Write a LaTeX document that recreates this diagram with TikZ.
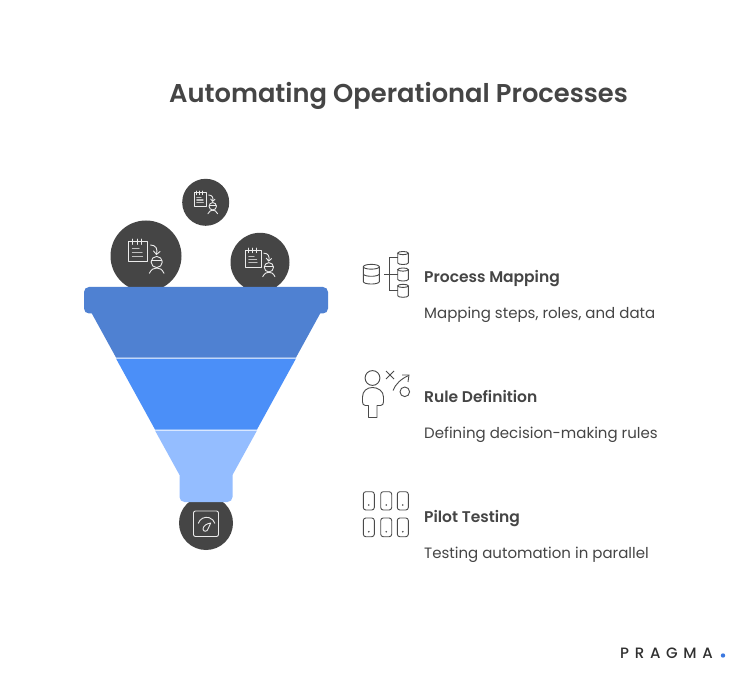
\documentclass[tikz,border=0pt]{standalone}
\usepackage{fontspec}
\setmainfont{Poppins}
\newfontfamily\semi{Poppins SemiBold}
\newfontfamily\logofont[LetterSpace=38]{Poppins Medium}
\definecolor{ink}{HTML}{454545}
\definecolor{blueA}{HTML}{4F81D2}
\definecolor{blueB}{HTML}{4B8FF8}
\definecolor{blueC}{HTML}{94BDFF}
\definecolor{iconline}{HTML}{4A4A4A}
\definecolor{dotblue}{HTML}{3B78E0}
\tikzset{
  ball/.style={circle,fill=ink,draw=none,inner sep=0pt,minimum size=#1},
  headtxt/.style={anchor=base west,inner sep=0pt,text=ink,font=\fontsize{15.5}{18}\selectfont\semi},
  desctxt/.style={anchor=base west,inner sep=0pt,text=ink,font=\fontsize{15}{18}\selectfont},
  icon/.style={draw=iconline,line width=0.9pt,fill=none},
  wicon/.style={draw=white!92!black,line width=0.9pt,fill=none,line cap=round,line join=round},
  docperson/.pic={
    \draw[wicon] (-17.7,-14.3) rectangle (1.3,5.7);
    \draw[wicon] (-13.5,-17) -- (-13.5,-11.5) (-9,-17) -- (-9,-11.5) (-4.5,-17) -- (-4.5,-11.5);
    \draw[wicon,draw=white!75!black,line width=1.1pt] (-13.5,-7.5) -- (-7,-7.5) (-13.5,-3.5) -- (-4,-3.5) (-13.5,0.5) -- (-3.5,0.5);
    \draw[wicon] (4.5,-11) .. controls (10,-11) and (12,-7) .. (10.5,-1.5);
    \draw[wicon] (7.5,-5) -- (10.5,-1.5) -- (14,-4.5);
    \draw[wicon] (10.7,6) circle (5.6);
    \draw[wicon] (5.5,4.5) -- (15.8,4.5);
    \draw[wicon] (3.3,17.3) .. controls (5.5,13) and (8,12) .. (10.7,12) .. controls (13.5,12) and (16,13) .. (18,17.3);
  },
  cyl/.pic={
    \draw[icon] (0,-0.93) ellipse[x radius=1,y radius=0.3];
    \draw[icon] (-1,-0.93) -- (-1,0.93) arc[start angle=180,end angle=0,x radius=1,y radius=0.3] -- (1,-0.93);
  }
}
\begin{document}
\begin{tikzpicture}[x=1pt,y=-1pt]
\useasboundingbox[fill=white] (0,0) rectangle (745,679);
\node[anchor=base,inner sep=0pt,text=ink,font=\fontsize{25.75}{30}\selectfont\semi] (title) at (398.5,102.3) {Automating Operational Processes};

% balls
\node[ball=47pt] (b1) at (205.7,202.3) {};
\node[ball=71pt] (b2) at (146,256) {};
\node[ball=59pt] (b3) at (260,262.3) {};
\node[ball=54pt] (b4) at (206,523) {};
\pic[scale=0.66] at (205.7,202.3) {docperson};
\pic at (146,256) {docperson};
\pic[scale=0.83] at (260,262.3) {docperson};

% funnel
\fill[blueC] (155,430.5) -- (257,430.5) -- (232.5,475) -- (232.5,497) arc[start angle=0,end angle=90,radius=5] -- (184.5,502) arc[start angle=90,end angle=180,radius=5] -- (179.5,475) -- cycle;
\fill[blueB] (116,358.5) -- (296,358.5) -- (257,429.5) -- (155,429.5) -- cycle;
\fill[blueA] (91,312) -- (321,312) -- (296,357.5) -- (116,357.5) -- cycle;
\fill[blueA,rounded corners=5pt] (84,287) rectangle (328,313.5);
\node[inner sep=0pt] (funnel) at (206,300) {};

% gauge icon
\draw[wicon,rounded corners=2pt] (193.5,511) rectangle (218.5,536.5);
\draw[wicon] (198.3,523.3) arc[start angle=198,end angle=342,radius=8.7];
\draw[wicon] (210.7,523) .. controls (207.5,523.5) and (203,525.5) .. (203,529) .. controls (203,532) and (207.5,532) .. (208,529) .. controls (208.5,527) and (210.2,525) .. (210.7,523) -- cycle;

% icon 1
\pic[scale=8] at (371.3,274.2) {cyl};
\pic[scale=5.3] at (403,258) {cyl};
\pic[scale=5.3] at (403,274.5) {cyl};
\pic[scale=5.3] at (403,290.8) {cyl};
\draw[icon] (363.3,274.2) .. controls (365,277) and (377.6,277) .. (379.3,274.2);
\draw[icon] (397.7,257.3) -- (389.3,257.3) -- (389.3,290.7) -- (397.7,290.7);
\draw[icon] (384,274) -- (397.7,274);

% icon 2
\draw[icon] (372.5,378) circle (7.4);
\draw[icon,line join=round] (368.5,417.5) -- (377,417.5) -- (377,405.5) -- (380.5,405.5) .. controls (382.5,405.5) and (383.5,404) .. (383.5,402) -- (383.5,397) .. controls (383.5,391) and (378,387.5) .. (372.5,387.5) .. controls (367,387.5) and (362.5,391) .. (362.5,397) -- (362.5,402) .. controls (362.5,404) and (363.5,405.5) .. (365.5,405.5) -- (368.5,405.5) -- cycle;
\draw[icon] (386,371) -- (394,379) (394,371) -- (386,379);
\draw[icon] (393,390.5) .. controls (395.5,384) and (401,379) .. (408.5,375.5);
\draw[icon] (402,375) -- (409,375) -- (408,382);
\draw[icon] (404.8,391.8) circle (4.8);

% icon 3
\foreach \x in {363.3,380.7,397.3}{
  \foreach \y/\yy in {491.7/510,518/536.7}{
    \draw[icon,rounded corners=2.5pt] (\x,\y) rectangle (\x+11,\yy);
    \fill[iconline] (\x+5.5,\yy-5) circle (0.9);
  }
}

% labels
\node[headtxt] (h1) at (424,282.5) {Process Mapping};
\node[desctxt] (d1) at (424,318.5) {Mapping steps, roles, and data};
\node[headtxt] (h2) at (424,402.5) {Rule Definition};
\node[desctxt] (d2) at (424,438.5) {Defining decision-making rules};
\node[headtxt] (h3) at (424,522.5) {Pilot Testing};
\node[desctxt] (d3) at (424,558.5) {Testing automation in parallel};

% logo
\node[anchor=base west,inner sep=0pt,text=ink!70!black,font=\fontsize{15}{16}\logofont] (logo) at (620,658) {PRAGMA};
\fill[dotblue] (723,655.5) circle (2.2);
\end{tikzpicture}
\end{document}
